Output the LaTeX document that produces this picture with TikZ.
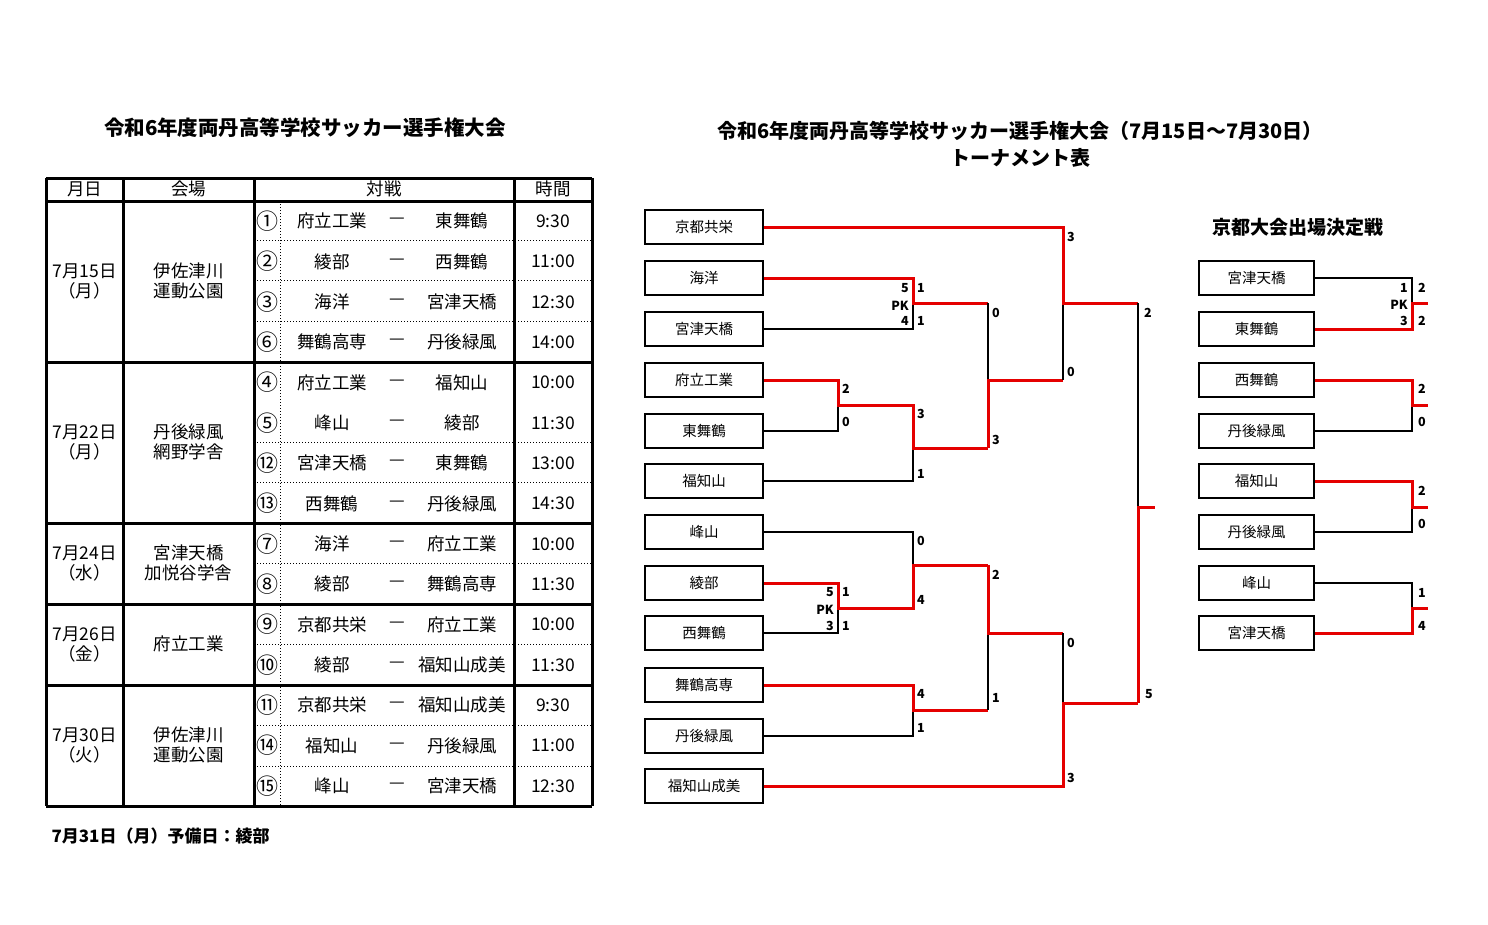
\documentclass[tikz,border=0pt]{standalone}
\usepackage{fontspec}
\setmainfont{Noto Sans CJK JP}
\usepackage{tikz}
\usetikzlibrary{positioning}

\begin{document}
\begin{tikzpicture}[x=1pt,y=-1pt,
    team/.style={rectangle, draw, line width=1.6pt, minimum width=118pt, minimum height=34pt, inner sep=0pt, font=\fontsize{14.5}{14.5}\selectfont},
    cell/.style={font=\fontsize{17.5}{20}\selectfont, align=center, inner sep=0pt},
    score/.style={font=\fontsize{12.5}{12.5}\selectfont\bfseries, inner sep=1pt},
    win/.style={draw=red!90!black, line width=3pt},
    lose/.style={draw=black, line width=1.5pt},
    thickline/.style={line width=3pt},
    dotline/.style={line width=1pt, dotted}
]
\useasboundingbox (0,0) rectangle (1488,924);

% Titles
\node[font=\fontsize{20.5}{20.5}\selectfont\bfseries] (ttl) at (305,128) {令和6年度両丹高等学校サッカー選手権大会};
\node[font=\fontsize{20}{20}\selectfont\bfseries] (ttr) at (1020,131) {令和6年度両丹高等学校サッカー選手権大会（7月15日～7月30日）};
\node[font=\fontsize{20}{20}\selectfont\bfseries, below=1pt of ttr] (ttr2) {トーナメント表};
\node[font=\fontsize{17}{17}\selectfont\bfseries, anchor=west] (note) at (48,836) {7月31日（月）予備日：綾部};

% Schedule table
\foreach \yy in {240.3,280.7,321,442,482.3,563.3,644.3,725.7,766}
  \draw[dotline] (254,\yy) -- (592,\yy);
\draw[dotline] (280,201) -- (280,806);
\foreach \yy in {178,201,362,523,604,685,806}
  \draw[thickline] (46,\yy) -- (592,\yy);
\foreach \xx in {46,123,254,514,592}
  \draw[thickline] (\xx,178) -- (\xx,806);
\node[cell] (hd1) at (84.5,189) {月日};
\node[cell] (hd2) at (188.5,189) {会場};
\node[cell] (hd3) at (384,189) {対戦};
\node[cell] (hd4) at (553,189) {時間};

\node[cell] (d1) at (84.5,281) {7月15日\\（月）};
\node[cell] (v1) at (188.5,281) {伊佐津川\\運動公園};
\node[cell] (d2) at (84.5,442) {7月22日\\（月）};
\node[cell] (v2) at (188.5,442) {丹後緑風\\網野学舎};
\node[cell] (d3) at (84.5,563) {7月24日\\（水）};
\node[cell] (v3) at (188.5,563) {宮津天橋\\加悦谷学舎};
\node[cell] (d4) at (84.5,644) {7月26日\\（金）};
\node[cell] (v4) at (188.5,644) {府立工業};
\node[cell] (d5) at (84.5,745) {7月30日\\（火）};
\node[cell] (v5) at (188.5,745) {伊佐津川\\運動公園};

\foreach \i/\n/\a/\b/\t in {1/①/府立工業/東舞鶴/9:30, 2/②/綾部/西舞鶴/11:00, 3/③/海洋/宮津天橋/12:30,
    4/⑥/舞鶴高専/丹後緑風/14:00, 5/④/府立工業/福知山/10:00, 6/⑤/峰山/綾部/11:30,
    7/⑫/宮津天橋/東舞鶴/13:00, 8/⑬/西舞鶴/丹後緑風/14:30, 9/⑦/海洋/府立工業/10:00,
    10/⑧/綾部/舞鶴高専/11:30, 11/⑨/京都共栄/府立工業/10:00, 12/⑩/綾部/福知山成美/11:30,
    13/⑪/京都共栄/福知山成美/9:30, 14/⑭/福知山/丹後緑風/11:00, 15/⑮/峰山/宮津天橋/12:30}{
  \pgfmathsetmacro{\ry}{201+40.33*(\i-0.5)}
  \node[cell, font=\fontsize{22}{22}\selectfont] (no\i) at (267,\ry) {\n};
  \node[cell] (ma\i) at (332,\ry) {\a};
  \node[cell] (dash\i) at (397,\ry) {—};
  \node[cell] (mb\i) at (462,\ry) {\b};
  \node[cell] (tm\i) at (553,\ry) {\t};
}

% Main bracket teams
\foreach \i/\nm/\yy in {1/京都共栄/227, 2/海洋/278, 3/宮津天橋/329, 4/府立工業/380, 5/東舞鶴/431, 6/福知山/481,
    7/峰山/532, 8/綾部/583, 9/西舞鶴/633, 10/舞鶴高専/685, 11/丹後緑風/736, 12/福知山成美/786}
  \node[team] (t\i) at (704,\yy) {\nm};

% Round 1
\draw[lose] (t3.east) -| (913,303);
\draw[win] (t2.east) -| (913,303) -- (988,303);
\draw[lose] (t5.east) -| (838,405);
\draw[lose] (t6.east) -| (913,448);
\draw[win] (t4.east) -| (838,405) -- (913,405) -- (913,448) -- (988,448);
\draw[lose] (t7.east) -| (913,565);
\draw[lose] (t9.east) -| (838,608);
\draw[win] (t8.east) -| (838,608) -- (913,608) -- (913,565) -- (988,565);
\draw[lose] (t11.east) -| (913,710);
\draw[win] (t10.east) -| (913,710) -- (988,710);
% Later rounds
\draw[lose] (988,303) -- (988,380);
\draw[win] (988,448) -- (988,380) -- (1063,380);
\draw[lose] (988,633) -- (988,710);
\draw[win] (988,565) -- (988,633) -- (1063,633);
\draw[lose] (1063,303) -- (1063,380);
\draw[win] (t1.east) -| (1063,303) -- (1138,303);
\draw[lose] (1063,633) -- (1063,703);
\draw[win] (t12.east) -| (1063,703) -- (1138,703);
\draw[lose] (1138,303) -- (1138,507);
\draw[win] (1138,703) -- (1138,507) -- (1155,507);

% Scores
\foreach \xx/\yy/\s in {920/288/1, 920/321/1, 845/389/2, 845/422/0, 920/414/3, 920/474/1,
    995/313/0, 995/440/3, 1070/237/3, 1070/372/0, 1147/313/2, 1148/694/5,
    845/592/1, 845/626/1, 920/541/0, 920/600/4, 920/694/4, 920/728/1,
    995/575/2, 995/698/1, 1070/643/0, 1070/778/3}
  \node[score, anchor=west] at (\xx-4,\yy) {\s};
\foreach \xx/\yy/\s in {910/288/5, 910/306/PK, 910/321/4, 835/592/5, 835/610/PK, 835/626/3}
  \node[score, anchor=east] at (\xx,\yy) {\s};

% Qualifier bracket
\node[font=\fontsize{19}{19}\selectfont\bfseries] (qt) at (1298,227) {京都大会出場決定戦};
\foreach \i/\nm/\yy in {1/宮津天橋/278, 2/東舞鶴/329, 3/西舞鶴/380, 4/丹後緑風/431,
    5/福知山/481, 6/丹後緑風/532, 7/峰山/583, 8/宮津天橋/633}
  \node[team, minimum width=115pt] (q\i) at (1256.5,\yy) {\nm};
\draw[lose] (q1.east) -| (1412,303);
\draw[win] (q2.east) -| (1412,303) -- (1428,303);
\draw[lose] (q4.east) -| (1412,405);
\draw[win] (q3.east) -| (1412,405) -- (1428,405);
\draw[lose] (q6.east) -| (1412,507);
\draw[win] (q5.east) -| (1412,507) -- (1428,507);
\draw[lose] (q7.east) -| (1412,608);
\draw[win] (q8.east) -| (1412,608) -- (1428,608);
\foreach \yy/\s in {288/2, 321/2, 389/2, 422/0, 491/2, 524/0, 593/1, 626/4}
  \node[score, anchor=west] at (1417,\yy) {\s};
\foreach \yy/\s in {288/1, 305/PK, 321/3}
  \node[score, anchor=east] at (1409,\yy) {\s};
\end{tikzpicture}
\end{document}
